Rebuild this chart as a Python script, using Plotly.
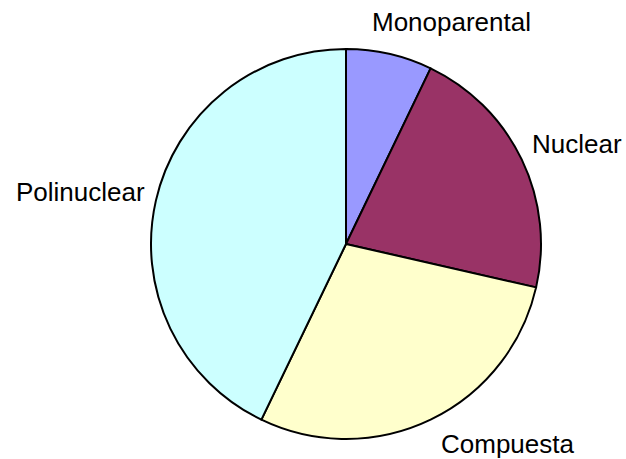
import plotly.graph_objects as go

categories = ["Monoparental", "Nuclear", "Compuesta", "Polinuclear"]
values = [1, 3, 4, 6]
colors = ["#9999FF", "#993366", "#FFFFCC", "#CCFFFF"]

W, H = 626, 459
cx, cy, r = 346, 244, 195

fig = go.Figure(go.Pie(
    labels=categories, values=values, sort=False, direction="clockwise",
    rotation=0, textinfo="none", hoverinfo="label+percent",
    marker=dict(colors=colors, line=dict(color="black", width=2)),
    domain=dict(x=[(cx - r) / W, (cx + r) / W], y=[(H - cy - r) / H, (H - cy + r) / H]),
    showlegend=False,
))

label_pos = {"Monoparental": (451, 22), "Nuclear": (577, 144),
             "Compuesta": (507, 444), "Polinuclear": (81, 192)}
for name in categories:
    x, y = label_pos[name]
    fig.add_annotation(x=x / W, y=1 - y / H, xref="paper", yref="paper",
                       xanchor="center", yanchor="middle",
                       text=name, showarrow=False,
                       font=dict(family="Liberation Sans, Arial", size=26, color="black"))

fig.update_layout(width=W, height=H, margin=dict(l=0, r=0, t=0, b=0),
                  paper_bgcolor="white", plot_bgcolor="white")
fig.write_html("out.html", config={"displayModeBar": False},
               post_script="document.body.style.margin='0';document.body.style.overflow='hidden';")
